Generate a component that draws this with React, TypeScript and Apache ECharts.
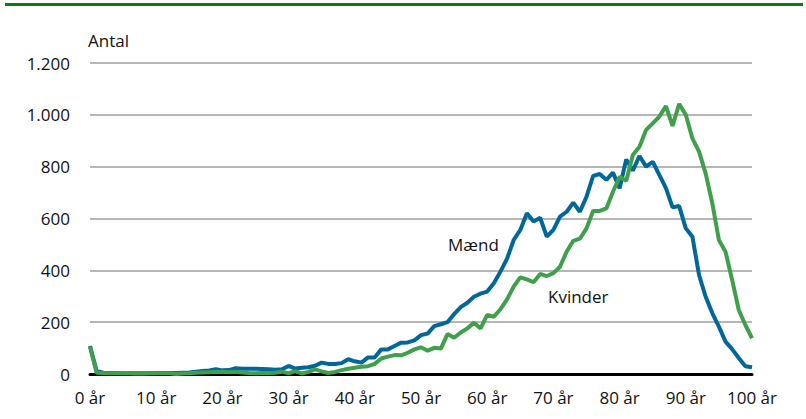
import React, { useEffect, useRef } from "react";
import * as echarts from "echarts";

const ages: number[] = Array.from({ length: 101 }, (_, i) => i);

const maend: number[] = [
  108, 12, 5, 4, 4, 3, 3, 3, 3, 3,
  4, 4, 4, 4, 5, 6, 9, 12, 14, 18,
  14, 15, 22, 20, 20, 20, 19, 18, 16, 18,
  31, 21, 24, 26, 32, 44, 39, 39, 42, 57,
  49, 44, 64, 64, 95, 95, 108, 121, 122, 130,
  150, 156, 185, 192, 200, 231, 258, 275, 298, 310,
  318, 350, 395, 445, 517, 556, 620, 588, 603, 530,
  556, 607, 626, 661, 626, 684, 764, 772, 749, 777,
  717, 828, 785, 841, 800, 819, 768, 717, 643, 648,
  562, 530, 382, 298, 235, 183, 125, 96, 62, 30,
  26,
];

const kvinder: number[] = [
  105, 5, 4, 3, 3, 3, 3, 2, 2, 3,
  3, 3, 3, 0, 2, 3, 5, 6, 7, 8,
  9, 7, 9, 6, 4, 3, 4, 4, 5, 9,
  3, 11, 2, 8, 18, 10, 4, 8, 15, 20,
  24, 28, 30, 39, 60, 67, 73, 72, 82, 95,
  103, 90, 101, 98, 154, 140, 160, 176, 198, 176,
  228, 221, 250, 288, 337, 373, 365, 354, 386, 378,
  389, 414, 472, 514, 522, 562, 629, 629, 639, 703,
  761, 745, 845, 877, 942, 967, 993, 1034, 957, 1042,
  1000, 909, 858, 774, 659, 517, 472, 363, 247, 189,
  138,
];

const seriesNames: string[] = ["Mænd", "Kvinder"];
const yTicks: number[] = [0, 200, 400, 600, 800, 1000, 1200];

const FONT = "'Open Sans', 'Noto Sans', sans-serif";
const TEXT = "#111111";

export default function App() {
  const ref = useRef<HTMLDivElement>(null);

  useEffect(() => {
    if (!ref.current) return;
    const chart = echarts.init(ref.current, null, { renderer: "svg" });
    chart.setOption({
      animation: false,
      backgroundColor: "#ffffff",
      grid: { left: 90, right: 54, top: 63, bottom: 45, containLabel: false },
      xAxis: {
        type: "category",
        data: ages.map(String),
        boundaryGap: false,
        axisLine: { show: true, lineStyle: { color: "#000000", width: 3 } },
        axisTick: { show: false },
        axisLabel: {
          interval: 9,
          margin: 15,
          color: TEXT,
          fontFamily: FONT,
          fontSize: 17,
          formatter: (v: string) => `${v} år`,
        },
        splitLine: { show: false },
      },
      yAxis: {
        type: "value",
        min: yTicks[0],
        max: yTicks[yTicks.length - 1],
        interval: 200,
        name: "Antal",
        nameLocation: "end",
        nameGap: 14,
        nameTextStyle: {
          color: TEXT,
          fontFamily: FONT,
          fontSize: 17,
          align: "left",
          padding: [0, 0, 0, -2],
        },
        axisLine: { show: false },
        axisTick: { show: false },
        axisLabel: {
          margin: 20,
          color: TEXT,
          fontFamily: FONT,
          fontSize: 17,
          formatter: (v: number) =>
            String(v).replace(/\B(?=(\d{3})+(?!\d))/g, "."),
        },
        splitLine: { show: true, lineStyle: { color: "#9e9e9e", width: 1.5 } },
      },
      series: [
        {
          name: seriesNames[0],
          type: "line",
          data: maend,
          symbol: "none",
          lineStyle: { color: "#00679a", width: 4 },
          z: 3,
        },
        {
          name: seriesNames[1],
          type: "line",
          data: kvinder,
          symbol: "none",
          lineStyle: { color: "#3f9f4a", width: 4 },
          z: 4,
        },
      ],
      graphic: [
        {
          type: "rect",
          shape: { x: 5, y: 3, width: 798, height: 3 },
          style: { fill: "#0a7a14" },
          silent: true,
        },
        {
          type: "text",
          x: 448,
          y: 244,
          style: {
            text: seriesNames[0],
            fill: TEXT,
            font: `17px ${FONT}`,
            verticalAlign: "middle",
          },
        },
        {
          type: "text",
          x: 548,
          y: 296,
          style: {
            text: seriesNames[1],
            fill: TEXT,
            font: `17px ${FONT}`,
            verticalAlign: "middle",
          },
        },
      ],
    });
    return () => chart.dispose();
  }, []);

  return (
    <div
      ref={ref}
      style={{ position: "absolute", left: 0, top: 0, width: 806, height: 419 }}
    />
  );
}
